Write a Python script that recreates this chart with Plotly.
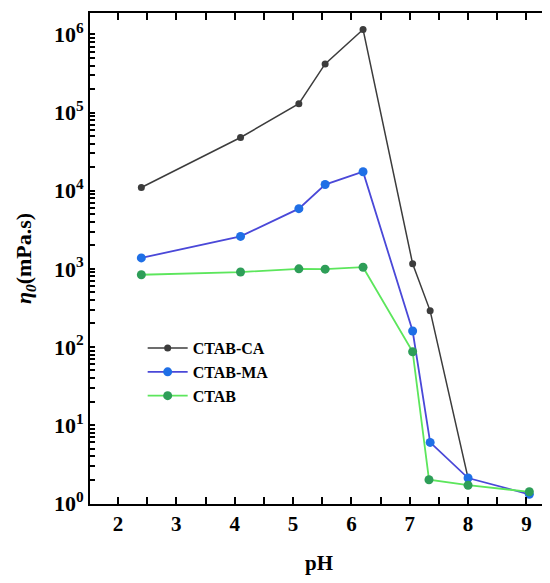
import plotly.graph_objects as go

ph_ca = [2.4, 4.1, 5.1, 5.55, 6.2, 7.05, 7.35, 8.0]
eta_ca = [1.1e4, 4.8e4, 1.3e5, 4.2e5, 1.16e6, 1.16e3, 290, 2.1]

ph_ma = [2.4, 4.1, 5.1, 5.55, 6.2, 7.05, 7.35, 8.0, 9.05]
eta_ma = [1.38e3, 2.6e3, 5.9e3, 1.2e4, 1.75e4, 160, 6.0, 2.1, 1.3]

ph_ctab = [2.4, 4.1, 5.1, 5.55, 6.2, 7.05, 7.33, 8.0, 9.05]
eta_ctab = [840, 910, 1000, 990, 1050, 87, 2.0, 1.7, 1.4]

x_ticks = [2, 3, 4, 5, 6, 7, 8, 9]
y_decades = [0, 1, 2, 3, 4, 5, 6]

FONT = "Liberation Serif"

# tick arrays: major ticks labelled, minor ticks unlabelled
x_tickvals, x_ticktext = [], []
for v in x_ticks:
    x_tickvals += [v - 0.5, v]
    x_ticktext += ["", "<b>%d</b>" % v]
x_tickvals.append(x_ticks[-1] + 0.5)
x_ticktext.append("")

y_tickvals, y_ticktext = [], []
for d in y_decades:
    y_tickvals.append(10 ** d)
    y_ticktext.append("<b>10<sup>%d</sup></b>" % d)
    for m in range(2, 10):
        y_tickvals.append(m * 10 ** d)
        y_ticktext.append("")

fig = go.Figure()
fig.add_trace(go.Scatter(x=ph_ca, y=eta_ca, name="<b>CTAB-CA</b>", mode="lines+markers",
                         line=dict(color="#3c3c3c", width=1.5),
                         marker=dict(color="#3c3c3c", size=7, symbol="circle")))
fig.add_trace(go.Scatter(x=ph_ma, y=eta_ma, name="<b>CTAB-MA</b>", mode="lines+markers",
                         line=dict(color="#4a48d8", width=1.8),
                         marker=dict(color="#1f6fe6", size=9)))
fig.add_trace(go.Scatter(x=ph_ctab, y=eta_ctab, name="<b>CTAB</b>", mode="lines+markers",
                         line=dict(color="#5ce65c", width=1.8),
                         marker=dict(color="#2e9e58", size=9)))

fig.update_layout(
    width=542, height=575,
    margin=dict(l=82, r=0, t=5, b=79),
    plot_bgcolor="white", paper_bgcolor="white",
    font=dict(family=FONT, color="black"),
    showlegend=True,
    legend=dict(x=0.115, y=0.352, xanchor="left", yanchor="top",
                bgcolor="rgba(0,0,0,0)", font=dict(family=FONT, size=16, color="black"),
                itemwidth=40),
    xaxis=dict(range=[1.52, 9.37], tickmode="array", tickvals=x_tickvals, ticktext=x_ticktext,
               ticks="inside", ticklen=7, tickwidth=2, tickcolor="black",
               showline=True, linecolor="black", linewidth=2, mirror="ticks",
               showgrid=False, zeroline=False,
               tickfont=dict(family=FONT, size=21, color="black"),
               title=dict(text="<b>pH</b>", font=dict(family=FONT, size=21, color="black"), standoff=20)),
    yaxis=dict(type="log", range=[-0.01, 6.275], tickmode="array",
               tickvals=y_tickvals, ticktext=y_ticktext,
               ticks="inside", ticklen=5, tickwidth=1.6, tickcolor="black",
               showline=True, linecolor="black", linewidth=2, mirror="ticks",
               showgrid=False, zeroline=False,
               tickfont=dict(family=FONT, size=22, color="black"),
               title=dict(text="<b><i>η</i><sub><i>0</i></sub>(mPa.s)</b>",
                          font=dict(family=FONT, size=22, color="black"), standoff=16)),
)

fig.write_html("out.html")
